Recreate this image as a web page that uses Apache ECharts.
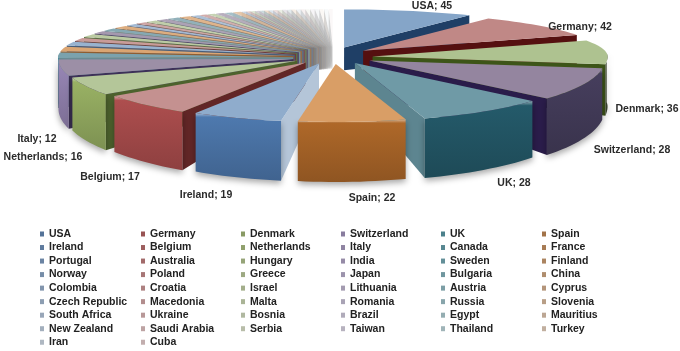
<!DOCTYPE html>
<html>
<head>
<meta charset="utf-8">
<script src="https://cdn.jsdelivr.net/npm/echarts@6/dist/echarts.min.js"></script>
<style>
  html, body { margin: 0; padding: 0; background: #fff; }
  #chart { width: 680px; height: 351px; }
</style>
</head>
<body>
<div id="chart"></div>
<script>
const countries = [
  'USA', 'Germany', 'Denmark', 'Switzerland', 'UK', 'Spain',
  'Ireland', 'Belgium', 'Netherlands', 'Italy', 'Canada', 'France',
  'Portugal', 'Australia', 'Hungary', 'India', 'Sweden', 'Finland',
  'Norway', 'Poland', 'Greece', 'Japan', 'Bulgaria', 'China',
  'Colombia', 'Croatia', 'Israel', 'Lithuania', 'Austria', 'Cyprus',
  'Czech Republic', 'Macedonia', 'Malta', 'Romania', 'Russia', 'Slovenia',
  'South Africa', 'Ukraine', 'Bosnia', 'Brazil', 'Egypt', 'Mauritius',
  'New Zealand', 'Saudi Arabia', 'Serbia', 'Taiwan', 'Thailand', 'Turkey',
  'Iran', 'Cuba'
];
const values = [
  45, 42, 36, 28, 28, 22,
  19, 17, 16, 12, 8, 7,
  6, 5, 5, 4, 4, 4,
  3, 3, 3, 3, 3, 3,
  2, 2, 2, 2, 2, 2,
  1, 1, 1, 1, 1, 1,
  1, 1, 1, 1, 1, 1,
  1, 1, 1, 1, 1, 1,
  1, 1
];
const labelled = 10; // only the ten biggest slices carry a label

// office style colours, one row per hue: front wall, top face, radial wall
const hues = [
  ['#3d6ca6', '#85a5c8', '#1f3f66'],
  ['#a53c3c', '#c08886', '#551010'],
  ['#8fa955', '#aec290', '#3d5518'],
  ['#8d7aae', '#94859f', '#2a1c4a'],
  ['#2f8091', '#6f9aa6', '#5d8590'],
  ['#b56c2a', '#d99e66', '#8a4f1c']
];
const sideColors = { Ireland: '#b4c5d8' };
const labelPos = {
  USA: [432, 6], Germany: [580, 27], Denmark: [647, 109], Switzerland: [632, 150],
  UK: [514, 183], Spain: [372, 198], Ireland: [206, 195], Belgium: [110, 177],
  Netherlands: [43, 157], Italy: [37, 139]
};

// pie geometry
const cx = 333, cy = 58;
const rx = 235, ryFront = 58, ryBack = 38;
const pullX = 40, pullFront = 6, pullBack = 11;
const total = values.reduce((a, b) => a + b, 0);

// the perspective of the original squeezes the pie: share of the circle -> drawn angle
const warpIn = [0, 45, 87, 123, 151, 179, 201, 220, 237, 253, 265, 360];
const warpOut = [0, 32, 65, 97, 130, 161.5, 188, 210, 233, 251, 268, 360];

function rad(d) { return d * Math.PI / 180; }

function warp(a) {
  let k = 0;
  while (k < warpIn.length - 2 && a > warpIn[k + 1]) k++;
  const t = (a - warpIn[k]) / (warpIn[k + 1] - warpIn[k]);
  return warpOut[k] + (warpOut[k + 1] - warpOut[k]) * t;
}

function toRgb(s) { return [1, 3, 5].map(i => parseInt(s.substr(i, 2), 16)); }
function toHex(c) { return '#' + c.map(x => Math.round(x).toString(16).padStart(2, '0')).join(''); }
function mix(hex, other, t) {
  const a = toRgb(hex), b = toRgb(other);
  return toHex(a.map((c, i) => c + (b[i] - c) * t));
}

// slice angles
let sum = 0;
const slices = values.map((v, i) => {
  const a0 = warp(sum / total * 360);
  sum += v;
  const a1 = warp(sum / total * 360);
  return { i, a0, a1, mid: (a0 + a1) / 2 };
});

function pos(s, ang, r) {
  const t = rad(ang), m = rad(s.mid);
  const v = -Math.cos(t), mv = -Math.cos(m);
  return [
    cx + pullX * Math.sin(m) + rx * r * Math.sin(t),
    cy + mv * (mv > 0 ? pullFront : pullBack) + r * v * (v > 0 ? ryFront : ryBack)
  ];
}
function wall(ang, r) {
  return (50 + 10 * -Math.cos(rad(ang))) * (0.55 + 0.45 * r);
}
function down(p, h) { return [p[0], p[1] + h]; }

function arc(from, to) {
  const n = Math.max(2, Math.ceil(Math.abs(to - from) / 2));
  const pts = [];
  for (let k = 0; k <= n; k++) pts.push(from + (to - from) * k / n);
  return pts;
}

function sliceColors(i) {
  const hue = hues[i % 6], tier = Math.floor(i / 6), name = countries[i];
  const fade = Math.min(1, tier * 0.09);
  return {
    front: mix(hue[0], '#ffffff', fade),
    top: mix(hue[1], '#f0f0f0', fade),
    side: sideColors[name] || mix(hue[2], '#b0b0b0', Math.min(1, tier * 0.14))
  };
}

function renderSlice(params) {
  const s = slices[params.seriesIndex], i = s.i;
  const col = sliceColors(i);
  const children = [];
  const shade = Math.max(0, Math.sin(rad(s.mid)));
  const frontColor = mix(col.front, '#10101e', shade * 0.62);

  // radial wall, only when it turns to the viewer
  const wallAng = s.mid < 180 ? s.a1 : s.a0;
  if ((s.mid < 180 && s.a1 < 180) || (s.mid >= 180 && s.a0 > 180)) {
    const tip = pos(s, wallAng, 0), out = pos(s, wallAng, 1);
    children.push({
      type: 'polygon',
      shape: { points: [tip, out, down(out, wall(wallAng, 1)), down(tip, wall(wallAng, 0))] },
      style: { fill: col.side, opacity: s.mid > 330 ? 0.5 : 1 }
    });
  }

  // outer wall, front half only
  const from = Math.max(s.a0, 85), to = Math.min(s.a1, 275);
  if (to > from) {
    const angs = arc(from, to);
    const upper = angs.map(a => pos(s, a, 1));
    const lower = angs.map((a, k) => down(upper[k], wall(a, 1))).reverse();
    children.push({
      type: 'polygon',
      shape: { points: upper.concat(lower) },
      style: {
        fill: new echarts.graphic.LinearGradient(0, 0, 0, 1, [
          { offset: 0, color: mix(frontColor, '#ffffff', 0.5) },
          { offset: 0.06, color: frontColor },
          { offset: 1, color: mix(frontColor, '#000000', 0.18) }
        ]),
        shadowBlur: 6, shadowColor: 'rgba(0,0,0,0.35)', shadowOffsetY: 3
      }
    });
  }

  // top face, the last slices dissolve into the paper
  const face = [pos(s, s.a0, 0)].concat(arc(s.a0, s.a1).map(a => pos(s, a, 1)));
  children.push({
    type: 'polygon',
    shape: { points: face },
    style: { fill: col.top, opacity: s.mid > 335 ? Math.max(0.15, (360 - s.mid) / 25) : 1 }
  });

  if (i < labelled) {
    const at = labelPos[countries[i]];
    children.push({
      type: 'text',
      style: {
        text: countries[i] + '; ' + values[i],
        x: at[0], y: at[1],
        align: 'center', verticalAlign: 'middle',
        fill: '#2b2b2b',
        font: 'bold 10.5px "Liberation Sans", Arial, sans-serif'
      }
    });
  }
  return { type: 'group', children };
}

// back slices first, the one nearest the viewer last
const depthRank = [];
slices.slice().sort((a, b) => -Math.cos(rad(a.mid)) + Math.cos(rad(b.mid)))
  .forEach((s, k) => { depthRank[s.i] = k; });

const legendLeft = [40, 141, 241, 341, 441, 542];
const rowStep = 13.53;

const option = {
  animation: false,
  backgroundColor: '#fff',
  legend: legendLeft.map((left, col) => ({
    left: left,
    top: 227.5,
    orient: 'vertical',
    padding: 0,
    itemWidth: 4,
    itemHeight: 5,
    itemGap: 0.53,
    icon: 'rect',
    selectedMode: false,
    textStyle: {
      color: '#222',
      fontFamily: '"Liberation Sans", Arial, sans-serif',
      fontWeight: 'bold',
      fontSize: 10.5,
      lineHeight: rowStep - 0.53
    },
    data: countries.filter((c, i) => i % 6 === col)
  })),
  series: countries.map((name, i) => ({
    type: 'custom',
    name: name,
    coordinateSystem: 'none',
    z: 2 + depthRank[i],
    silent: true,
    itemStyle: { color: mix(sliceColors(i).front, '#7f7f7f', 0.35) },
    data: [[values[i]]],
    renderItem: renderSlice
  }))
};

const myChart = echarts.init(document.getElementById('chart'));
myChart.setOption(option);
</script>
</body>
</html>
